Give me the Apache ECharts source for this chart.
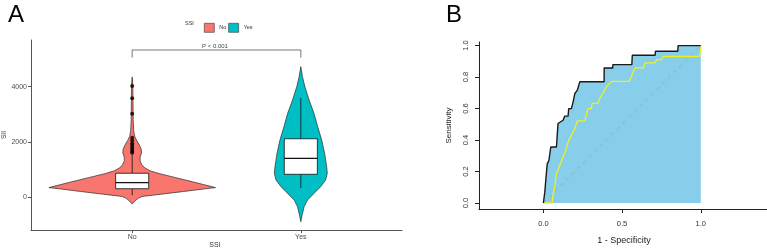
<!DOCTYPE html>
<html><head><meta charset="utf-8">
<script src="https://cdn.jsdelivr.net/npm/echarts@6/dist/echarts.min.js"></script>
<style>html,body{margin:0;padding:0;background:#fff}#c{width:767px;height:249px}</style>
</head><body><div id="c"></div>
<script>
// ---------- Panel A data ----------
const categories = ['No', 'Yes'];
const yTicksA = [0, 2000, 4000];
const xTitleA = 'SSI';
// violin outline: [SII value, relative half-width]
const violinNo = [[-250,0],[-200,0.018],[-120,0.042],[-50,0.071],[20,0.119],[100,0.345],[200,0.619],[290,0.857],[340,1],[450,0.857],[550,0.726],[700,0.524],[850,0.321],[950,0.214],[1050,0.155],[1150,0.119],[1300,0.095],[1450,0.095],[1600,0.113],[1750,0.107],[1900,0.083],[2050,0.054],[2200,0.030],[2400,0.018],[2800,0.012],[3500,0.010],[4100,0.007],[4350,0]];
const violinYes = [[-894,0],[-650,0.016],[-350,0.04],[-110,0.08],[130,0.158],[375,0.238],[615,0.298],[860,0.318],[1100,0.31],[1580,0.286],[2070,0.25],[2550,0.202],[3030,0.158],[3515,0.099],[4000,0.048],[4360,0.02],[4720,0]];
const boxLow    = [60, 330];
const boxQ1     = [300, 822];
const boxMedian = [520, 1402];
const boxQ3     = [860, 2110];
const boxHigh   = [1550, 3590];
const outliersNo = [4020, 3580, 3020, 2150, 2050, 1950, 1880, 1800, 1720, 1650, 1600];
const bracket = [[1, 5050], [1, 5326], [2, 5326], [2, 5050]];
const pLabel = 'P < 0.001';

// ---------- Panel B data ----------
const rocTicksX = [0, 0.5, 1];
const rocTicksY = [0, 0.2, 0.4, 0.6, 0.8, 1];
const rocBlack = [[0,0],[0.006,0],[0.009,0.069],[0.02,0.2],[0.025,0.25],[0.035,0.27],[0.047,0.356],[0.083,0.356],[0.093,0.505],[0.125,0.526],[0.136,0.552],[0.157,0.552],[0.161,0.6],[0.178,0.6],[0.189,0.643],[0.2,0.696],[0.216,0.717],[0.231,0.77],[0.386,0.77],[0.386,0.858],[0.441,0.858],[0.441,0.879],[0.562,0.879],[0.565,0.939],[0.71,0.939],[0.712,0.964],[0.854,0.964],[0.856,1],[1,1]];
const rocYellow = [[0,0],[0.056,0],[0.062,0.059],[0.072,0.101],[0.083,0.186],[0.104,0.239],[0.125,0.292],[0.146,0.346],[0.157,0.388],[0.178,0.43],[0.2,0.473],[0.216,0.522],[0.263,0.522],[0.273,0.558],[0.284,0.6],[0.305,0.6],[0.309,0.633],[0.347,0.633],[0.358,0.664],[0.371,0.688],[0.403,0.741],[0.435,0.773],[0.547,0.773],[0.572,0.837],[0.583,0.858],[0.636,0.858],[0.646,0.89],[0.71,0.89],[0.72,0.911],[0.752,0.911],[0.762,0.932],[0.991,0.932],[1,0.975],[1,1]];
const diagonal = [[0,0],[1,1]];
const aucLabels = ['AUC: 0.810', 'AUC: 0.688'];

const FONT = '"Liberation Sans", Arial, sans-serif';
const RED = '#F8766D', TEAL = '#00BFC4';
const VIOLIN_HALF = 0.494;   // x-units for relative width 1
const BOX_HALF = 0.098;

function violinRender(profile, cat, color) {
  return function (params, api) {
    const pts = [];
    for (const [v, d] of profile) pts.push(api.coord([cat + d * VIOLIN_HALF, v]));
    for (let i = profile.length - 1; i >= 0; i--) {
      const [v, d] = profile[i];
      pts.push(api.coord([cat - d * VIOLIN_HALF, v]));
    }
    return { type: 'polygon', shape: { points: pts }, style: { fill: color, stroke: '#2b2b2b', lineWidth: 0.7 } };
  };
}

function boxRender(params, api) {
  const x = api.value(0);
  const lo = api.value(1), q1 = api.value(2), md = api.value(3), q3 = api.value(4), hi = api.value(5);
  const pTL = api.coord([x - BOX_HALF, q3]);
  const pBR = api.coord([x + BOX_HALF, q1]);
  const pMidL = api.coord([x - BOX_HALF, md]);
  const pMidR = api.coord([x + BOX_HALF, md]);
  const pHi = api.coord([x, hi]), pQ3 = api.coord([x, q3]);
  const pLo = api.coord([x, lo]), pQ1 = api.coord([x, q1]);
  const ls = { stroke: '#111', lineWidth: 0.8 };
  return { type: 'group', children: [
    { type: 'line', shape: { x1: pHi[0], y1: pHi[1], x2: pQ3[0], y2: pQ3[1] }, style: ls },
    { type: 'line', shape: { x1: pLo[0], y1: pLo[1], x2: pQ1[0], y2: pQ1[1] }, style: ls },
    { type: 'rect', shape: { x: pTL[0], y: pTL[1], width: pBR[0] - pTL[0], height: pBR[1] - pTL[1] }, style: { fill: '#fff', stroke: '#111', lineWidth: 0.8 } },
    { type: 'line', shape: { x1: pMidL[0], y1: pMidL[1], x2: pMidR[0], y2: pMidR[1] }, style: { stroke: '#111', lineWidth: 1.3 } }
  ] };
}

const chart = echarts.init(document.getElementById('c'), null, { renderer: 'canvas' });
const boxData = categories.map((c, i) => [i + 1, boxLow[i], boxQ1[i], boxMedian[i], boxQ3[i], boxHigh[i]]);

const axisTxtA = { color: '#4d4d4d', fontSize: 7, fontFamily: FONT };
const axisTxtB = { color: '#333', fontSize: 7.5, fontFamily: FONT };

chart.setOption({
  animation: false,
  textStyle: { fontFamily: FONT },
  legend: {
    data: categories, left: 199, top: 18, itemWidth: 10, itemHeight: 9, itemGap: 2, icon: 'rect',
    textStyle: { fontSize: 5.5, color: '#333', fontFamily: FONT },
    itemStyle: { borderColor: '#333', borderWidth: 0.6 }
  },
  grid: [
    { left: 31, top: 40, width: 371, height: 190, containLabel: false, outerBoundsMode: 'none' },
    { left: 479, top: 42, width: 290, height: 167, containLabel: false, outerBoundsMode: 'none' }
  ],
  xAxis: [
    { type: 'value', gridIndex: 0, min: 0.4, max: 2.6, splitLine: { show: false },
      axisLine: { show: true, onZero: false, lineStyle: { color: '#555', width: 1 } },
      axisTick: { show: true, length: 3, customValues: [1, 2], lineStyle: { color: '#555' } },
      axisLabel: { customValues: [1, 2], margin: 4, formatter: v => categories[Math.round(v) - 1], ...axisTxtA } },
    { type: 'value', gridIndex: 1, min: -0.409, max: -0.409 + 290 / 157.4, splitLine: { show: false },
      axisLine: { show: true, onZero: false, lineStyle: { color: '#222', width: 1 } },
      axisTick: { show: true, length: 4, customValues: rocTicksX, lineStyle: { color: '#222' } },
      axisLabel: { customValues: rocTicksX, margin: 11, formatter: v => v.toFixed(1), ...axisTxtB },
      name: '1 - Specificity', nameLocation: 'middle', nameGap: 27, nameTextStyle: { color: '#222', fontSize: 9, fontFamily: FONT } }
  ],
  yAxis: [
    { type: 'value', gridIndex: 0, min: -1196, max: 5688, splitLine: { show: false },
      axisLine: { show: true, onZero: false, lineStyle: { color: '#555', width: 1 } },
      axisTick: { show: true, length: 3, customValues: yTicksA, lineStyle: { color: '#555' } },
      axisLabel: { customValues: yTicksA, margin: 4, formatter: v => String(v), ...axisTxtA },
      name: 'SII', nameLocation: 'middle', nameGap: 22, nameTextStyle: { ...axisTxtA, color: '#333', fontSize: 6.5 } },
    { type: 'value', gridIndex: 1, min: -0.038, max: 1.023, splitLine: { show: false },
      axisLine: { show: true, onZero: false, lineStyle: { color: '#222', width: 1 } },
      axisTick: { show: true, length: 4, customValues: rocTicksY, lineStyle: { color: '#222' } },
      axisLabel: { customValues: rocTicksY, margin: 9, rotate: 90, formatter: v => v.toFixed(1), ...axisTxtB },
      name: 'Sensitivity', nameLocation: 'middle', nameGap: 26, nameTextStyle: { color: '#222', fontSize: 8, fontFamily: FONT } }
  ],
  series: [
    { name: 'No', type: 'custom', xAxisIndex: 0, yAxisIndex: 0, data: [[1, 0]], itemStyle: { color: RED },
      renderItem: violinRender(violinNo, 1, RED) },
    { name: 'Yes', type: 'custom', xAxisIndex: 0, yAxisIndex: 0, data: [[2, 0]], itemStyle: { color: TEAL },
      renderItem: violinRender(violinYes, 2, TEAL) },
    { name: 'box', type: 'custom', xAxisIndex: 0, yAxisIndex: 0, data: boxData, renderItem: boxRender },
    { name: 'outliers', type: 'scatter', xAxisIndex: 0, yAxisIndex: 0, data: outliersNo.map(v => [1, v]),
      symbolSize: 4, itemStyle: { color: '#000' } },
    { name: 'bracket', type: 'line', xAxisIndex: 0, yAxisIndex: 0, data: bracket, symbol: 'none',
      lineStyle: { color: '#555', width: 0.8 } },
    // Panel B
    { name: 'fill', type: 'line', xAxisIndex: 1, yAxisIndex: 1, data: rocBlack, symbol: 'none',
      lineStyle: { width: 0 }, areaStyle: { color: '#87CEEB', opacity: 1 } },
    { name: 'diag', type: 'line', xAxisIndex: 1, yAxisIndex: 1, data: diagonal, symbol: 'none',
      lineStyle: { color: 'rgba(160,165,175,0.9)', width: 1, type: [4, 4] } },
    { name: 'rocYellow', type: 'line', xAxisIndex: 1, yAxisIndex: 1, data: rocYellow, symbol: 'none',
      lineStyle: { color: '#f0f020', width: 1.3 } },
    { name: 'rocBlack', type: 'line', xAxisIndex: 1, yAxisIndex: 1, data: rocBlack, symbol: 'none',
      lineStyle: { color: '#1a1a1a', width: 1.4 } }
  ],
  graphic: [
    { type: 'text', left: 8, top: 3, style: { text: 'A', fontSize: 24, fill: '#000', fontFamily: FONT } },
    { type: 'text', left: 446, top: 3, style: { text: 'B', fontSize: 24, fill: '#000', fontFamily: FONT } },
    { type: 'text', left: 185, top: 20, style: { text: 'SSI', fontSize: 5.5, fill: '#333', fontFamily: FONT } },
    { type: 'text', x: 215, y: 245, style: { text: xTitleA, fontSize: 7, fill: '#333', fontFamily: FONT, align: 'center', verticalAlign: 'middle' } },
    { type: 'text', x: 215, y: 46, style: { text: pLabel, fontSize: 6, fill: '#444', fontFamily: FONT, align: 'center', verticalAlign: 'middle' } },
    { type: 'text', x: 622, y: 161, style: { text: aucLabels[0], fontSize: 8, fill: '#1f2d4d', fontFamily: FONT, verticalAlign: 'middle' } },
    { type: 'text', x: 622, y: 176, style: { text: aucLabels[1], fontSize: 8, fill: '#1f2d4d', fontFamily: FONT, verticalAlign: 'middle' } }
  ]
});
</script>
</body></html>
